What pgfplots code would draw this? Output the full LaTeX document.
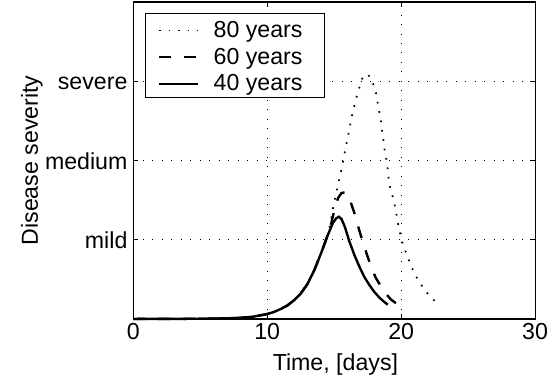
\documentclass[border=0pt]{standalone}
\usepackage{fontspec}
\setmainfont{Liberation Sans}
\usepackage{pgfplots}
\pgfplotsset{compat=1.18}
\newcommand\fsz{\fontsize{11.6}{13.9}\selectfont}
\begin{document}
\begin{tikzpicture}
\begin{axis}[
  scale only axis,
  width=201.25pt, height=158.75pt,
  xmin=0, xmax=30, ymin=0, ymax=4,
  xtick={0,10,20,30},
  ytick={1,2,3},
  yticklabels={mild,medium,severe},
  axis line style={line width=0.6pt},
  every tick/.style={line width=0.5pt, black},
  major tick length=2.5pt,
  tick align=inside,
  tick pos=both,
  grid=major,
  major grid style={line width=0.45pt, black, dash pattern=on 0.45pt off 4.3pt},
  /pgf/number format/assume math mode=true,
  tick label style={font=\fsz},
  xticklabel style={inner sep=0pt, anchor=north, yshift=-1.75pt},
  yticklabel style={inner sep=0pt, anchor=base east, xshift=-2.75pt, yshift=-4.3pt},
  xlabel={Time, [days]},
  ylabel={Disease severity},
  xlabel style={font=\fsz, inner sep=0pt, at={(rel axis cs:0.503,-0.180)}, anchor=south},
  ylabel style={font=\fsz, inner sep=0pt, at={(rel axis cs:-0.2802,0.5)}, anchor=north},
  legend cell align=left,
  legend style={at={(0.0286,0.9644)}, anchor=north west, draw=black, line width=0.6pt,
    font=\fsz, inner xsep=6.35pt, inner ysep=0.9pt,
    nodes={inner sep=0pt, text depth=2.44pt},
    cells={anchor=base west},
    row sep=2.75pt, column sep=7.15pt},
  legend image code/.code={\draw[#1] (0pt,3.6pt) -- (19.5pt,3.6pt);},
  clip=false,
]
\addplot[black, line width=0.85pt, dash pattern=on 0.85pt off 3.9pt] coordinates {
(0,0.000) (2,0.001) (4,0.002) (6,0.005) (7,0.008) (8,0.014) (9,0.03) (10,0.062)
(10.5,0.088) (11,0.125) (11.5,0.17) (12,0.235) (12.5,0.32) (13,0.44) (13.5,0.61)
(14,0.82) (14.5,1.05) (14.72,1.21) (14.96,1.44) (15.26,1.67) (15.56,1.90) (15.83,2.14)
(16.11,2.375) (16.38,2.61) (16.56,2.73) (16.75,2.85) (16.95,2.96) (17.15,3.06)
(17.4,3.09) (17.65,3.06) (17.92,2.96) (18.12,2.85) (18.24,2.73) (18.37,2.61)
(18.49,2.49) (18.57,2.375) (18.67,2.26) (18.76,2.14) (18.89,2.02) (18.99,1.90)
(19.06,1.78) (19.16,1.67) (19.36,1.545) (19.54,1.42) (19.66,1.31) (19.78,1.19)
(19.93,1.075) (20.1,0.96) (20.36,0.84) (20.6,0.73) (20.9,0.61) (21.22,0.505)
(21.6,0.405) (22.02,0.31) (22.52,0.225)
};
\addlegendentry{\rule{0pt}{11.1pt}80 years\hspace*{4.5pt}}
\addplot[black, line width=1.2pt, dash pattern=on 6pt off 6.5pt] coordinates {
(0,0.000) (2,0.001) (4,0.002) (6,0.005) (7,0.008) (8,0.014) (9,0.03) (10,0.062)
(10.5,0.088) (11,0.125) (11.5,0.17) (12,0.235) (12.5,0.32) (13,0.44) (13.5,0.61)
(14,0.82) (14.5,1.05) (14.8,1.22) (15.07,1.42) (15.3,1.53) (15.55,1.59) (15.85,1.6)
(16.1,1.54) (16.5,1.34) (16.8,1.16) (17.12,0.98) (17.45,0.81) (17.75,0.66) (18.1,0.52)
(18.5,0.41) (18.85,0.32) (19.24,0.245) (19.6,0.2) (19.98,0.17)
};
\addlegendentry{60 years}
\addplot[black, line width=1.2pt] coordinates {
(0,0.000) (2,0.001) (4,0.002) (6,0.005) (7,0.008) (8,0.014) (9,0.03) (10,0.062)
(10.5,0.088) (11,0.125) (11.5,0.17) (12,0.235) (12.5,0.32) (13,0.44) (13.5,0.61)
(14,0.82) (14.5,1.05) (14.9,1.21) (15.15,1.27) (15.35,1.29) (15.55,1.26) (15.8,1.16)
(16.13,0.98) (16.5,0.81) (16.88,0.66) (17.25,0.53) (17.62,0.43) (18,0.34) (18.37,0.27)
(18.7,0.22) (19.0,0.18)
};
\addlegendentry{40 years}
\coordinate (BL) at (rel axis cs:-0.3317,-0.2126);
\coordinate (TR) at (rel axis cs:1.0298,1.0063);
\end{axis}
\path (BL) rectangle (TR);
\end{tikzpicture}
\end{document}
